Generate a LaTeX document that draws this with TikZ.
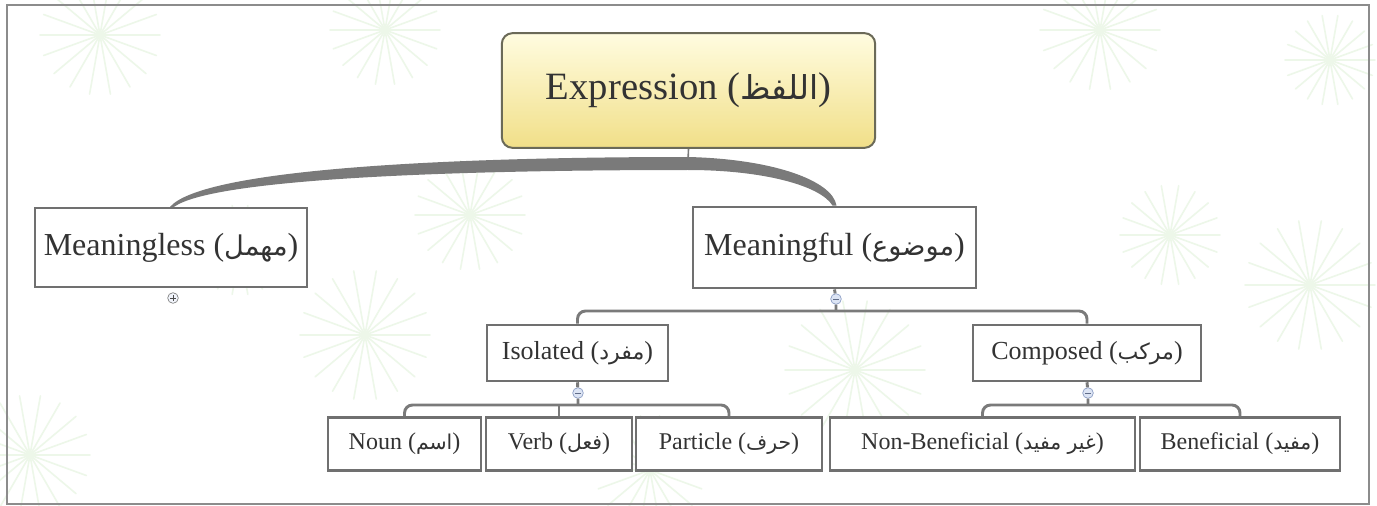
\documentclass[tikz,border=0pt]{standalone}
\usepackage{fontspec}
\setmainfont{Liberation Serif}
\newfontfamily\arabicfont[Script=Arabic,Scale=0.85]{DejaVu Sans}
\TeXXeTstate=1
\usepackage{xcolor}
\usetikzlibrary{calc,shadings}

\definecolor{boxline}{HTML}{707070}
\definecolor{connline}{HTML}{7A7A7A}
\definecolor{inktext}{HTML}{333333}
\definecolor{roottop}{HTML}{FFFCE0}
\definecolor{rootbot}{HTML}{F1DF88}
\definecolor{rootline}{HTML}{6B6A58}
\definecolor{togfill}{HTML}{DCE4F4}
\definecolor{togline}{HTML}{8A9CC4}
\definecolor{burstgreen}{HTML}{EDF7E9}

\newcommand{\arw}[1]{{\arabicfont\beginR #1\endR}}

\tikzset{
  topic/.style={draw=boxline,line width=1.9pt,fill=white,text=inktext,inner sep=0pt},
  lvlone/.style={topic,font=\fontsize{24}{28}\selectfont},
  lvltwo/.style={topic,font=\fontsize{19.5}{23}\selectfont},
  lvlthree/.style={topic,font=\fontsize{18}{22}\selectfont},
  conn/.style={draw=connline,line width=2.2pt},
  brfill/.style={fill=connline},
  togbase/.style={circle,draw=togline,fill=togfill,line width=0.5pt,minimum size=8pt,inner sep=0pt},
  togminus/.style={togbase,path picture={\draw[togline!70!black,line width=0.5pt]
    ([xshift=-2pt]path picture bounding box.center) -- ([xshift=2pt]path picture bounding box.center);}},
  togplus/.style={togbase,draw=gray,fill=togfill!40,path picture={\draw[black!70,line width=0.6pt]
    ([xshift=-2.2pt]path picture bounding box.center) -- ([xshift=2.2pt]path picture bounding box.center)
    ([yshift=-2.2pt]path picture bounding box.center) -- ([yshift=2.2pt]path picture bounding box.center);}},
  burst/.style={draw=burstgreen,line width=1.2pt,line cap=round},
}

\begin{document}
\begin{tikzpicture}[x=0.75pt,y=-0.75pt]
\useasboundingbox (0,0) rectangle (1377,506);
\fill[white] (0,0) rectangle (1377,506);

% faint background bursts
\foreach \cx/\cy/\r in {100/35/60,385/30/55,1100/30/60,470/215/55,365/335/65,855/370/70,1310/285/65,
                        30/455/60,650/470/55,1170/235/50,1330/60/45,240/250/45} {
  \foreach \a in {0,20,...,340}
    \draw[burst] (\cx,\cy) -- ++(\a:\r);
}

% frame
\draw[draw=gray!90,line width=1.9pt] (7,5) rectangle (1369,504);

% topics
\node[rounded corners=8pt,draw=rootline,line width=1.5pt,top color=roottop,bottom color=rootbot,
      text=inktext,minimum width=280pt,minimum height=86pt,font=\fontsize{29}{34}\selectfont]
  (root) at (688.5,90.5) {Expression (\arw{اللفظ})};

\node[lvlone,minimum width=204pt,minimum height=59pt] (mls) at (171,247.5) {Meaningless (\arw{مهمل})};
\node[lvlone,minimum width=212pt,minimum height=61pt] (mfl) at (834.5,247.5) {Meaningful (\arw{موضوع})};

\node[lvltwo,minimum width=136pt,minimum height=42pt] (iso) at (577.5,353) {Isolated (\arw{مفرد})};
\node[lvltwo,minimum width=171pt,minimum height=42pt] (cmp) at (1087,353) {Composed (\arw{مركب})};

\node[lvlthree,minimum width=115pt,minimum height=40pt] (noun) at (404.5,444) {Noun (\arw{اسم})};
\node[lvlthree,minimum width=109.5pt,minimum height=40pt] (verb) at (559,444) {Verb (\arw{فعل})};
\node[lvlthree,minimum width=139.5pt,minimum height=40pt] (prt) at (729,444) {Particle (\arw{حرف})};
\node[lvlthree,minimum width=229pt,minimum height=40pt] (nbf) at (982.5,444) {Non-Beneficial (\arw{غير مفيد})};
\node[lvlthree,minimum width=150pt,minimum height=40pt] (bnf) at (1240,444) {Beneficial (\arw{مفيد})};

% toggles
\node[togplus] (tgmls) at (173,298) {};
\node[togminus] (tgmfl) at (836,299) {};
\node[togminus] (tgiso) at (578,393) {};
\node[togminus] (tgcmp) at (1088,393) {};

% junctions
\coordinate (hub) at (688,161);
\coordinate (jmfl) at (836,311);
\coordinate (jiso) at (578,405);
\coordinate (jcmp) at (1088,405);

% root branches
\draw[draw=connline,line width=1.2pt] (root.south) -- (hub);
\fill[brfill] ($(hub)+(0,-4)$) .. controls ($(hub)+(-240,-4)$) and ($(mls.north)+(32,-38)$)
  .. ($(mls.north)+(-1,0)$) -- ($(mls.north)+(3,0)$) .. controls ($(mls.north)+(42,-28)$) and ($(hub)+(-240,9)$)
  .. ($(hub)+(0,9)$) -- cycle;
\fill[brfill] ($(hub)+(0,-4)$) .. controls ($(hub)+(85,-2)$) and ($(mfl.north)+(-2,-25)$)
  .. ($(mfl.north)+(2,0)$) -- ($(mfl.north)+(-2,0)$) .. controls ($(mfl.north)+(-14,-20)$) and ($(hub)+(75,9)$)
  .. ($(hub)+(0,9)$) -- cycle;

% sub branches
\draw[conn] (mfl.south) -- (tgmfl) -- (jmfl);
\draw[conn,rounded corners=6pt] (iso.north) |- (jmfl) -| (cmp.north);
\draw[conn] (iso.south) -- (tgiso) -- (jiso);
\draw[conn,rounded corners=6pt] (noun.north) |- (jiso) -| (prt.north);
\draw[conn] (verb.north) -- (verb.north |- jiso);
\draw[conn] (cmp.south) -- (tgcmp) -- (jcmp);
\draw[conn,rounded corners=6pt] (nbf.north) |- (jcmp) -| (bnf.north);
\end{tikzpicture}
\end{document}
